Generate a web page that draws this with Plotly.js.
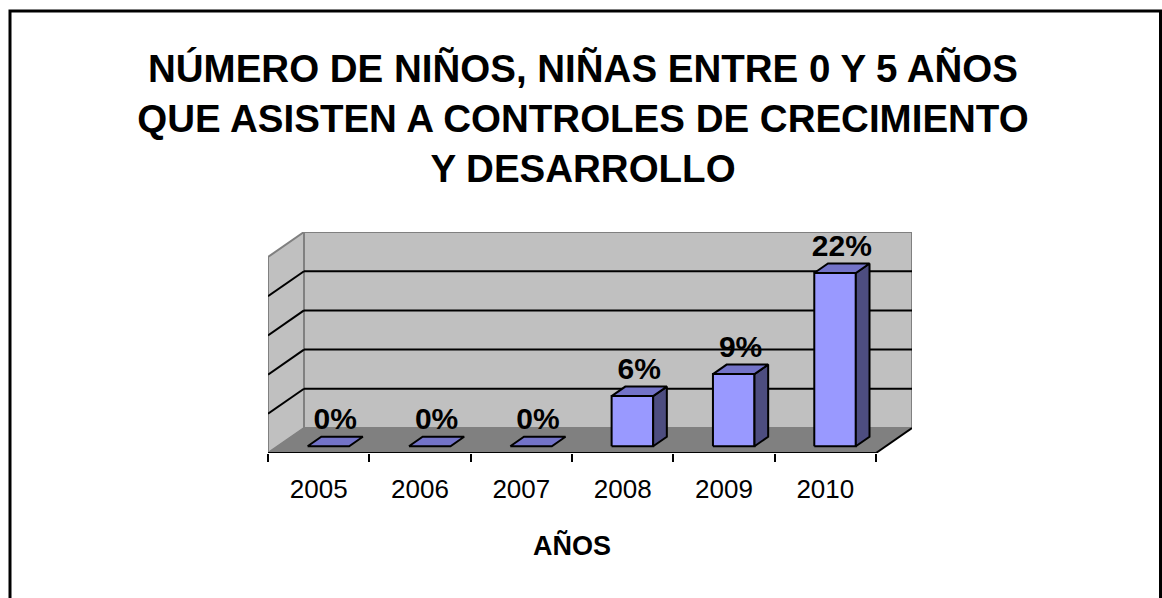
<!DOCTYPE html>
<html>
<head>
<meta charset="utf-8">
<script src="https://cdn.plot.ly/plotly-3.0.1.min.js"></script>
<style>
html,body{margin:0;padding:0;background:#fff;}
#chart{width:1162px;height:598px;}
</style>
</head>
<body>
<div id="chart"></div>
<script>
// ---- data ----
const categories = ["2005", "2006", "2007", "2008", "2009", "2010"];
const values = [0, 0, 0, 6.4, 9.2, 22.1];
const labels = ["0%", "0%", "0%", "6%", "9%", "22%"];
const yTickValues = [5, 10, 15, 20];
const chartTitle = "NÚMERO DE NIÑOS, NIÑAS ENTRE 0 Y 5 AÑOS<br>QUE ASISTEN A CONTROLES DE CRECIMIENTO<br>Y DESARROLLO";
const xTitle = "AÑOS";

// ---- 3D look (styling / projection) ----
const W = 1162, H = 598;
const L = 268, R = 912, T = 232, B = 453;      // plot area pixels
const yMax = 25;                                // back wall top value
const pxPerCat = (876 - 268) / 6;               // front edge width per category
const Dx = (R - 876) / pxPerCat;                // depth shift in x units
const pxPerVal = (428 - T) / yMax;
const Dy = (B - 428) / pxPerVal;                // depth shift in y units
const dF = 0.27, dB = 0.65, bw = 0.41;          // bar front/back depth, width

const FRONT = "#9999FF", SIDE = "#4D4D80", TOP = "#7373C8";
const WALL = "#C0C0C0", FLOOR = "#808080", EDGE = "#808080";
const FONT = "Arial, 'Liberation Sans', sans-serif";

const traces = [];
function poly(xs, ys, color) {
  traces.push({
    type: "scatter", mode: "lines", x: xs.concat([xs[0]]), y: ys.concat([ys[0]]),
    fill: "toself", fillcolor: color, line: {color: "#000", width: 2},
    hoverinfo: "skip", showlegend: false
  });
}
const lx = [], ly = [];
categories.forEach((c, i) => {
  const v = values[i];
  const xl = i - bw / 2 + dF * Dx, xr = i + bw / 2 + dF * Dx;
  const y0 = dF * Dy, y1 = v + dF * Dy;
  const sx = (dB - dF) * Dx, sy = (dB - dF) * Dy;
  if (v > 0) {
    poly([xl, xr, xr, xl], [y0, y0, y1, y1], FRONT);
    poly([xr, xr + sx, xr + sx, xr], [y0, y0 + sy, y1 + sy, y1], SIDE);
  }
  poly([xl, xr, xr + sx, xl + sx], [y1, y1, y1 + sy, y1 + sy], TOP);
  lx.push(i + (dF + dB) / 2 * Dx);
  ly.push(v + dB * Dy);
});
traces.push({
  type: "scatter", mode: "text", x: lx, y: ly, text: labels,
  textposition: "top center",
  textfont: {family: FONT, size: 30, color: "#000", weight: "bold"},
  hoverinfo: "skip", showlegend: false
});

// ---- background shapes ----
const x0 = -0.5, x1 = categories.length - 0.5;
const shapes = [];
const px2x = p => (p - L) / (R - L);
const px2y = p => (B - p) / (B - T);
shapes.push({type: "rect", xref: "paper", yref: "paper",
  x0: px2x(10), x1: px2x(1160.5), y0: px2y(11), y1: px2y(640),
  line: {color: "#000", width: 3}, fillcolor: "rgba(0,0,0,0)", layer: "below"});
shapes.push({type: "rect", xref: "x", yref: "y", x0: x0 + Dx, x1: x1 + Dx, y0: Dy, y1: yMax + Dy,
  fillcolor: WALL, line: {color: EDGE, width: 2}, layer: "below"});
shapes.push({type: "path", xref: "x", yref: "y",
  path: `M${x0},0 L${x0},${yMax} L${x0 + Dx},${yMax + Dy} L${x0 + Dx},${Dy} Z`,
  fillcolor: WALL, line: {color: EDGE, width: 2}, layer: "below"});
shapes.push({type: "path", xref: "x", yref: "y",
  path: `M${x0},0 L${x1},0 L${x1 + Dx},${Dy} L${x0 + Dx},${Dy} Z`,
  fillcolor: FLOOR, line: {color: EDGE, width: 1}, layer: "below"});
yTickValues.forEach(v => {
  shapes.push({type: "line", xref: "x", yref: "y", x0: x0 + Dx, x1: x1 + Dx, y0: v + Dy, y1: v + Dy,
    line: {color: "#000", width: 2}, layer: "below"});
  shapes.push({type: "line", xref: "x", yref: "y", x0: x0, x1: x0 + Dx, y0: v, y1: v + Dy,
    line: {color: "#000", width: 2}, layer: "below"});
});
shapes.push({type: "line", xref: "x", yref: "y", x0: x0, x1: x1, y0: 0, y1: 0,
  line: {color: "#000", width: 2}, layer: "below"});
shapes.push({type: "line", xref: "x", yref: "y", x0: x1, x1: x1 + Dx, y0: 0, y1: Dy,
  line: {color: "#000", width: 2}, layer: "below"});

const boundaries = [];
for (let k = 0; k <= categories.length; k++) boundaries.push(k - 0.5);

const layout = {
  width: W, height: H,
  margin: {l: L, r: W - R, t: T, b: H - B, pad: 0},
  paper_bgcolor: "#fff", plot_bgcolor: "rgba(0,0,0,0)",
  font: {family: FONT, color: "#000"},
  title: {
    text: chartTitle,
    font: {family: FONT, size: 38.5, color: "#000", weight: "bold"},
    x: 583 / W, xanchor: "center", xref: "container",
    y: 1 - 82 / H, yanchor: "middle", yref: "container"
  },
  xaxis: {
    range: [x0, x1 + Dx], showgrid: false, zeroline: false, showline: false,
    tickmode: "array", tickvals: categories.map((c, i) => i), ticktext: categories,
    ticks: "", tickfont: {family: FONT, size: 26, color: "#000"},
    ticklabelstandoff: 18,
    minor: {tickmode: "array", tickvals: boundaries, ticks: "outside", ticklen: 8,
      tickwidth: 2, tickcolor: "#000", showgrid: false},
    fixedrange: true
  },
  yaxis: {
    range: [0, yMax + Dy], showgrid: false, zeroline: false, showline: false,
    showticklabels: false, ticks: "", fixedrange: true
  },
  shapes: shapes,
  annotations: [{
    xref: "x", yref: "paper", x: 2.5, y: 0, yshift: -(545 - B), yanchor: "middle",
    text: xTitle, showarrow: false,
    font: {family: FONT, size: 27, color: "#000", weight: "bold"}
  }],
  showlegend: false
};

Plotly.newPlot("chart", traces, layout, {displayModeBar: false, staticPlot: true});
</script>
</body>
</html>
